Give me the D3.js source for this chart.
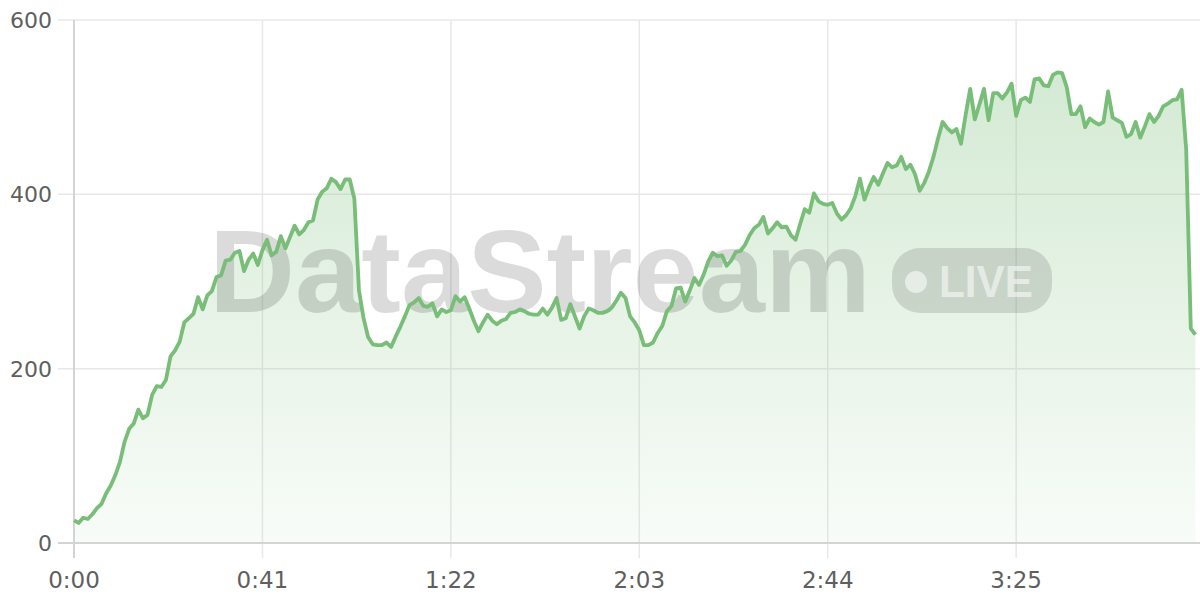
<!DOCTYPE html>
<html>
<head>
<meta charset="utf-8">
<script src="https://cdn.jsdelivr.net/npm/d3@7"></script>
<style>
  body { margin: 0; background: #fff; }
  .tick-label { font-family: "DejaVu Sans", sans-serif; fill: #5f5f5f; }
  .grid line { stroke: #e8e8e8; stroke-width: 1.5; }
</style>
</head>
<body>
<div id="chart"></div>
<script>
// one reading per second, 0:00 .. 4:04
var values = [
  26, 23, 29, 27.5, 33, 40, 45, 57, 66, 78,
  93, 116, 131, 137, 153, 143, 147, 170, 180, 179,
  187, 214, 221, 231, 253, 258, 263, 282, 268, 284,
  289, 305, 307, 324, 325, 333, 335, 312, 325, 332,
  319, 336, 348, 330, 334, 352, 338, 351, 364, 354,
  359, 368, 370, 394, 403, 407, 418, 414, 406, 417,
  417, 395, 290, 258, 236, 228, 227, 227, 230, 225,
  237, 248, 260, 273, 276, 281, 272, 271, 275, 260,
  268, 265, 267, 283, 277, 282, 269, 255, 243, 253,
  262, 255, 251, 255, 257, 264, 265, 268, 266, 263,
  262, 262, 269, 262, 270, 281, 256, 258, 274, 260,
  246, 260, 269, 267, 264, 264, 266, 270, 278, 287,
  281, 260, 253, 244, 227, 227, 230, 241, 249, 266,
  272, 292, 293, 277, 290, 304, 296, 308, 323, 333,
  329, 330, 318, 324, 334, 335, 342, 353, 361, 365,
  374, 355, 361, 368, 362, 363, 353, 348, 366, 383,
  379, 401, 392, 389, 388, 390, 378, 371, 376, 384,
  398, 418, 394, 408, 420, 411, 424, 436, 431, 433,
  443, 429, 434, 423, 404, 413, 426, 443, 464, 483,
  476, 471, 475, 458, 491, 521, 486, 503, 521, 485,
  516, 516, 510, 517, 527, 490, 508, 511, 506, 532,
  533, 525, 524, 537, 540, 539, 523, 492, 492, 501,
  477, 487, 483, 480, 483, 518, 488, 485, 482, 466,
  469, 483, 465, 478, 492, 483, 490, 501, 504, 508,
  509, 520, 451, 246, 239
];
var xTicks = [0, 41, 82, 123, 164, 205];
var yTicks = [0, 200, 400, 600];
var watermark = "DataStream";
var badge = "LIVE";

function fmtTime(s) {
    var m = Math.floor(s / 60);
    var sec = s % 60;
    return m + ":" + (sec < 10 ? "0" : "") + sec;
}

function init() {
    var w = 1200, h = 600;
    var left = 74, top = 20, bottom = 543, right = 1200;

    var data = values.map(function(v, i) { return { t: i, v: v }; });

    var xScale = d3.scaleLinear().domain([0, 245]).range([left, right]);
    var yScale = d3.scaleLinear().domain([0, 600]).range([bottom, top]);

    var svg = d3.select("#chart").append("svg")
        .attr("width", w)
        .attr("height", h);

    var defs = svg.append("defs");
    var grad = defs.append("linearGradient")
        .attr("id", "fillGrad")
        .attr("gradientUnits", "userSpaceOnUse")
        .attr("x1", 0).attr("x2", 0)
        .attr("y1", yScale(540)).attr("y2", bottom);
    grad.append("stop").attr("offset", "0%").attr("stop-color", "#78bd78").attr("stop-opacity", 0.32);
    grad.append("stop").attr("offset", "100%").attr("stop-color", "#78bd78").attr("stop-opacity", 0.05);

    // gridlines
    var grid = svg.append("g").attr("class", "grid");
    grid.selectAll(".hg").data(yTicks.slice(1)).enter().append("line")
        .attr("x1", 58).attr("x2", right)
        .attr("y1", function(d) { return yScale(d); })
        .attr("y2", function(d) { return yScale(d); });
    grid.selectAll(".vg").data(xTicks.slice(1)).enter().append("line")
        .attr("x1", function(d) { return xScale(d); })
        .attr("x2", function(d) { return xScale(d); })
        .attr("y1", top).attr("y2", 558);

    // area
    var area = d3.area()
        .x(function(d) { return xScale(d.t); })
        .y0(bottom)
        .y1(function(d) { return yScale(d.v); });

    svg.append("path")
        .datum(data)
        .attr("d", area)
        .attr("fill", "url(#fillGrad)");

    // watermark
    var wm = svg.append("g").attr("class", "watermark");
    wm.append("text")
        .attr("x", 209)
        .attr("y", 312)
        .attr("font-family", "Liberation Sans, Arial, sans-serif")
        .attr("font-weight", "bold")
        .attr("font-size", 116)
        .attr("textLength", 662)
        .attr("lengthAdjust", "spacingAndGlyphs")
        .attr("fill", "rgba(0,0,0,0.14)")
        .text(watermark);
    wm.append("rect")
        .attr("x", 892).attr("y", 248)
        .attr("width", 160).attr("height", 65)
        .attr("rx", 28)
        .attr("fill", "rgba(0,0,0,0.12)");
    wm.append("circle")
        .attr("cx", 916).attr("cy", 282).attr("r", 11)
        .attr("fill", "rgba(255,255,255,0.55)");
    wm.append("text")
        .attr("x", 939)
        .attr("y", 297)
        .attr("font-family", "Liberation Sans, Arial, sans-serif")
        .attr("font-weight", "bold")
        .attr("font-size", 45)
        .attr("textLength", 94)
        .attr("lengthAdjust", "spacingAndGlyphs")
        .attr("fill", "rgba(255,255,255,0.55)")
        .text(badge);

    // axis lines
    svg.append("line")
        .attr("x1", 58).attr("x2", right)
        .attr("y1", bottom).attr("y2", bottom)
        .attr("stroke", "#d4d4d4").attr("stroke-width", 2);
    svg.append("line")
        .attr("x1", left).attr("x2", left)
        .attr("y1", top).attr("y2", 558)
        .attr("stroke", "#d4d4d4").attr("stroke-width", 2);

    // tick labels
    svg.selectAll(".ylab").data(yTicks).enter().append("text")
        .attr("class", "tick-label")
        .attr("x", 52)
        .attr("y", function(d) { return yScale(d); })
        .attr("dy", "0.36em")
        .attr("text-anchor", "end")
        .attr("font-size", 22)
        .text(function(d) { return d; });

    svg.selectAll(".xlab").data(xTicks).enter().append("text")
        .attr("class", "tick-label")
        .attr("x", function(d) { return xScale(d); })
        .attr("y", 588)
        .attr("text-anchor", "middle")
        .attr("font-size", 23)
        .text(function(d) { return fmtTime(d); });

    // line
    var line = d3.line()
        .x(function(d) { return xScale(d.t); })
        .y(function(d) { return yScale(d.v); });

    svg.append("path")
        .datum(data)
        .attr("d", line)
        .attr("fill", "none")
        .attr("stroke", "#78bd78")
        .attr("stroke-width", 3.8)
        .attr("stroke-linejoin", "round");
}

window.onload = init;
</script>
</body>
</html>
